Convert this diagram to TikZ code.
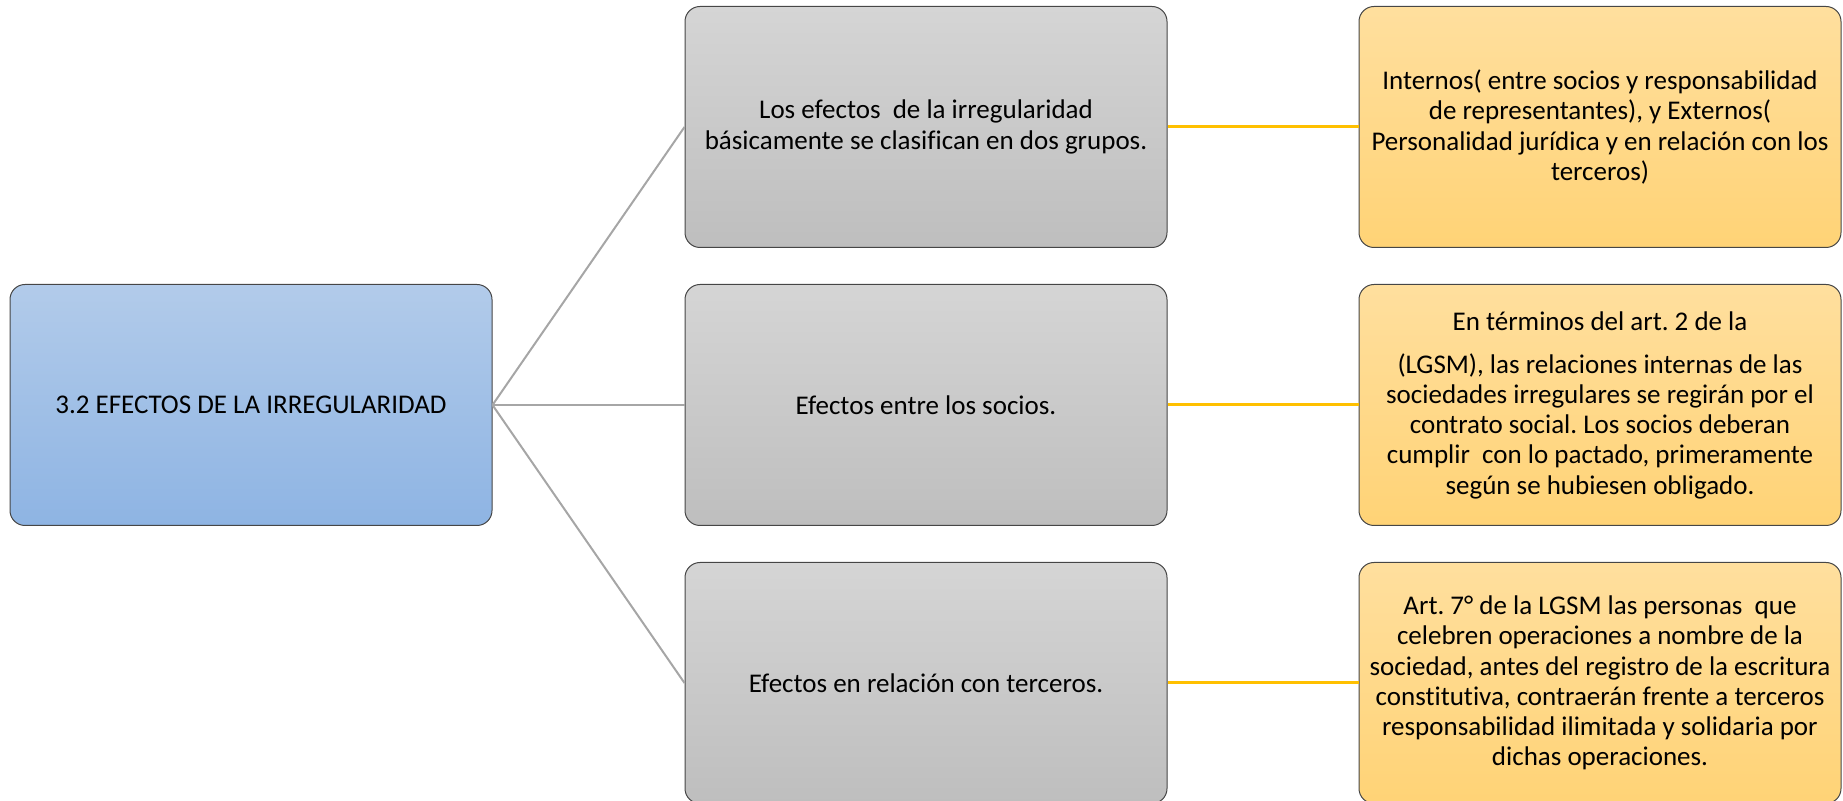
\documentclass[tikz,border=0pt]{standalone}
\usepackage{fontspec}
\setmainfont{Carlito}[Ligatures=NoCommon]
\frenchspacing
\usetikzlibrary{positioning}
\definecolor{rootTop}{RGB}{178,203,234}
\definecolor{rootBot}{RGB}{142,180,227}
\definecolor{midTop}{RGB}{213,213,213}
\definecolor{midBot}{RGB}{190,190,190}
\definecolor{leafTop}{RGB}{255,223,158}
\definecolor{leafBot}{RGB}{255,211,118}
\definecolor{linkgray}{RGB}{166,166,166}
\definecolor{linkgold}{RGB}{255,192,0}
\definecolor{boxline}{RGB}{70,70,70}
\tikzset{
    basebox/.style={
        draw=boxline, line width=0.5pt, rounded corners=7.5pt,
        minimum width=241pt, minimum height=120.5pt, inner sep=0pt,
        align=center, font=\fontsize{13.5}{15.1}\selectfont
    },
    rootbox/.style={
        basebox, top color=rootTop, bottom color=rootBot
    },
    midbox/.style={
        basebox, top color=midTop, bottom color=midBot
    },
    leafbox/.style={
        basebox, top color=leafTop, bottom color=leafBot
    },
    treelink/.style={
        linkgray, line width=1pt
    },
    leaflink/.style={
        linkgold, line width=1.5pt
    }
}

\begin{document}
\begin{tikzpicture}[x=0.5pt, y=-0.5pt]
        \useasboundingbox (0,0) rectangle (1843,801);

        % ======================================
        % NODO RAIZ
        % ======================================
        \node[rootbox] (root) at (251,405) {3.2 EFECTOS DE LA IRREGULARIDAD};

        % ======================================
        % COLUMNA CENTRAL
        % ======================================
        \node[midbox, right=96pt of root] (mid2) {Efectos entre los socios.};
        \node[midbox, above=18pt of mid2] (mid1) {Los efectos~ de la irregularidad\\
            básicamente se clasifican en dos grupos.};
        \node[midbox, below=18pt of mid2] (mid3) {Efectos en relación con terceros.};

        % ======================================
        % COLUMNA DERECHA
        % ======================================
        \node[leafbox, right=95.5pt of mid1] (leaf1) {Internos( entre socios y responsabilidad\\
            de representantes), y Externos(\\
            Personalidad jurídica y en relación con los\\
            terceros)};
        \node[leafbox, right=95.5pt of mid2] (leaf2) {En términos del art. 2 de la\\[6.5pt]
            (LGSM), las relaciones internas de las\\
            sociedades irregulares se regirán por el\\
            contrato social. Los socios deberan\\
            cumplir~ con lo pactado, primeramente\\
            según se hubiesen obligado.};
        \node[leafbox, right=95.5pt of mid3] (leaf3) {Art. 7° de la LGSM las personas~ que\\
            celebren operaciones a nombre de la\\
            sociedad, antes del registro de la escritura\\
            constitutiva, contraerán frente a terceros\\
            responsabilidad ilimitada y solidaria por\\
            dichas operaciones.};

        % Conectores
        \foreach \k in {1,2,3} {
            \draw[treelink] (root.east) -- (mid\k.west);
            \draw[leaflink] (mid\k.east) -- (leaf\k.west);
        }

\end{tikzpicture}
\end{document}
